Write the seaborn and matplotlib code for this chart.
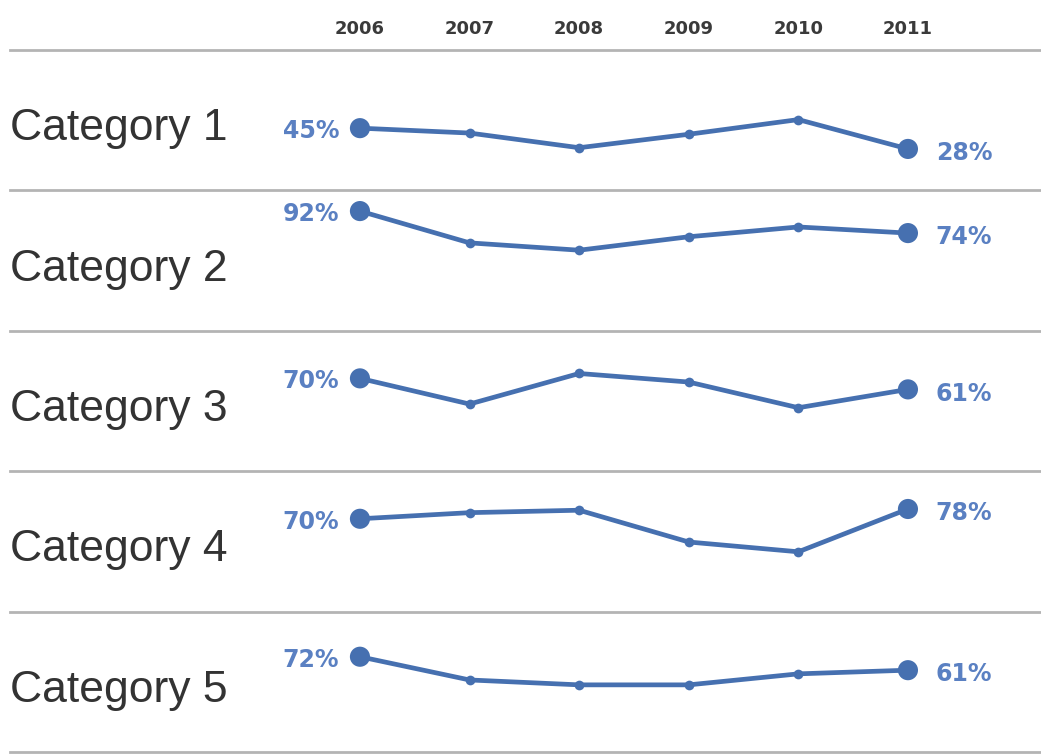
import matplotlib
matplotlib.use("Agg")
import matplotlib.pyplot as plt
import seaborn as sns
import pandas as pd

years = [2006, 2007, 2008, 2009, 2010, 2011]
categories = ["Category 1", "Category 2", "Category 3", "Category 4", "Category 5"]
cat1 = [45, 41, 29, 40, 52, 28]
cat2 = [92, 66, 60, 71, 79, 74]
cat3 = [70, 49, 74, 67, 46, 61]
cat4 = [70, 75, 77, 51, 43, 78]
cat5 = [72, 53, 49, 49, 58, 61]
series = [cat1, cat2, cat3, cat4, cat5]

sns.set_theme(style="white")
plt.rcParams["font.family"] = ["Liberation Sans", "DejaVu Sans"]

LINE = "#4670b0"
LABEL = "#5a80c2"
SEP = "#b4b4b4"

fig = plt.figure(figsize=(10.41, 7.54), dpi=100)
fig.patch.set_facecolor("white")
left = 10 / 1041
bottom = 1 - 752 / 754
top = 1 - 50 / 754
h = (top - bottom) / 5

for i, (cat, vals) in enumerate(zip(categories, series)):
    ax = fig.add_axes([left, top - (i + 1) * h, 1 - left, h])
    df = pd.DataFrame({"year": years, "value": vals})
    sns.lineplot(data=df, x="year", y="value", ax=ax, color=LINE, lw=3.4,
                 marker="o", markersize=7, markeredgewidth=0)
    ends = df.iloc[[0, -1]]
    sns.scatterplot(data=ends, x="year", y="value", ax=ax, color=LINE,
                    s=210, edgecolor="none", zorder=5)
    ax.set_ylim(-5.9, 108.9)
    ax.set_xlim(2002.807, 2012.214)
    ax.set_xlabel("")
    ax.set_ylabel("")
    ax.set_yticks([])
    for s in ["left", "right"]:
        ax.spines[s].set_visible(False)
    ax.spines["bottom"].set_color(SEP)
    ax.spines["bottom"].set_linewidth(2)
    ax.spines["top"].set_color(SEP)
    ax.spines["top"].set_linewidth(2)
    ax.spines["top"].set_visible(i == 0)
    ax.patch.set_alpha(0)
    if i == 0:
        ax.set_xticks(years)
        ax.xaxis.set_ticks_position("top")
        ax.tick_params(axis="x", length=0, pad=9, labelsize=13,
                       labelcolor="#3a3a3a")
        for t in ax.get_xticklabels():
            t.set_fontweight("bold")
            t.set_family("DejaVu Sans")
    else:
        ax.set_xticks([])
    ax.text(0.0, 0.44, cat, transform=ax.transAxes, ha="left", va="center",
            fontsize=32, color="#333333")
    ax.annotate(f"{vals[0]}%", (years[0], vals[0]), xytext=(-15, -2),
                textcoords="offset points", ha="right", va="center",
                fontsize=17, fontweight="bold", color=LABEL,
                family="DejaVu Sans")
    ax.annotate(f"{vals[-1]}%", (years[-1], vals[-1]), xytext=(20, -3),
                textcoords="offset points", ha="left", va="center",
                fontsize=17, fontweight="bold", color=LABEL,
                family="DejaVu Sans")

fig.savefig("out.png", dpi=100)
